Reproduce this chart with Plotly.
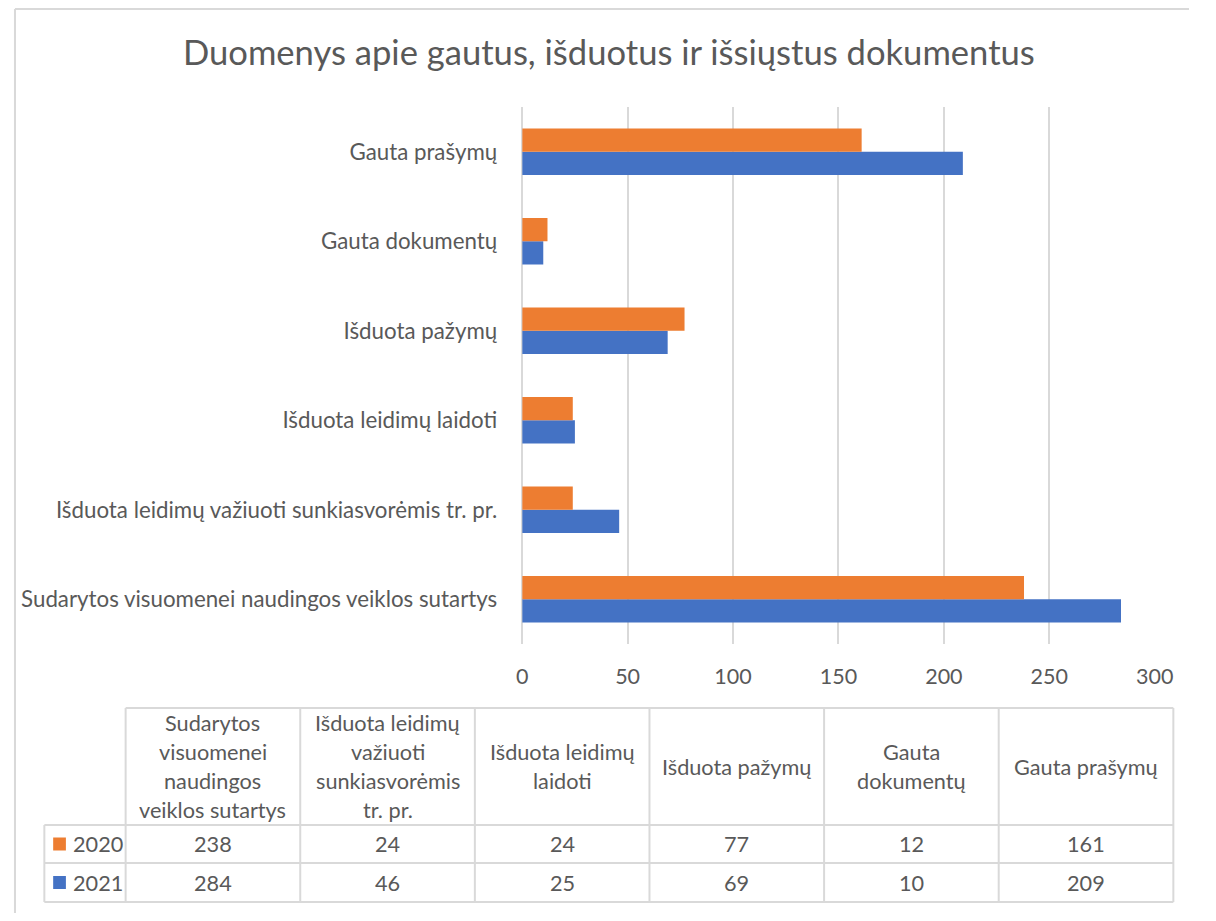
import plotly.graph_objects as go

# ---- data ----
categories = [
    "Sudarytos visuomenei naudingos veiklos sutartys",
    "Išduota leidimų važiuoti sunkiasvorėmis tr. pr.",
    "Išduota leidimų laidoti",
    "Išduota pažymų",
    "Gauta dokumentų",
    "Gauta prašymų",
]
table_headers = [
    ["Sudarytos", "visuomenei", "naudingos", "veiklos sutartys"],
    ["Išduota leidimų", "važiuoti", "sunkiasvorėmis", "tr. pr."],
    ["Išduota leidimų", "laidoti"],
    ["Išduota pažymų"],
    ["Gauta", "dokumentų"],
    ["Gauta prašymų"],
]
series_names = ["2020", "2021"]
values_2020 = [238, 24, 24, 77, 12, 161]
values_2021 = [284, 46, 25, 69, 10, 209]
x_ticks = [0, 50, 100, 150, 200, 250, 300]

title = "Duomenys apie gautus, išduotus ir išsiųstus dokumentus"

# ---- style ----
OFF = 8                          # default page margin of the html body
W, H = 1216 - 2 * OFF, 921 - 2 * OFF   # figure fills the page (autosize)
ORANGE = "#ED7D31"
BLUE = "#4472C4"
TEXT = "#595959"
GRID = "#D9D9D9"
FONT = "Lato"
FS_CAT = 22.3
FS_TICK = 21.5
FS_TAB = 21.7
FS_TITLE = 34.6

def clamp(v):
    return min(1.0, max(0.0, v))

def px(x):
    return clamp((x - OFF) / W)

def py(y):
    return clamp(1 - (y - OFF) / H)

fig = go.Figure()
# 2021 first so it sits at the bottom of each group
fig.add_trace(go.Bar(y=categories, x=values_2021, name=series_names[1], orientation="h",
                     marker=dict(color=BLUE, line=dict(width=0))))
fig.add_trace(go.Bar(y=categories, x=values_2020, name=series_names[0], orientation="h",
                     marker=dict(color=ORANGE, line=dict(width=0))))

plot_l, plot_r, plot_t, plot_b = 527, 1173, 107, 644

fig.update_layout(
    autosize=True,
    margin=dict(l=0, r=0, t=0, b=0),
    paper_bgcolor="white", plot_bgcolor="white",
    barmode="group", bargap=0.48, bargroupgap=0,
    showlegend=False,
    font=dict(family=FONT, color=TEXT, size=FS_TICK),
    xaxis=dict(domain=[px(plot_l), px(plot_r)], range=[0, 300], tickvals=x_ticks,
               showgrid=True, gridcolor=GRID, gridwidth=1.5, zeroline=True,
               zerolinecolor=GRID, zerolinewidth=1.5, showline=False, ticks="",
               ticklabelstandoff=17, tickfont=dict(size=FS_TICK, color=TEXT), fixedrange=True),
    yaxis=dict(domain=[py(plot_b), py(plot_t)], type="category",
               categoryorder="array", categoryarray=categories,
               showgrid=False, zeroline=False, showline=False, ticks="",
               ticklabelstandoff=24, tickfont=dict(size=FS_CAT, color=TEXT), fixedrange=True),
)

annotations = []
shapes = []

# title
annotations.append(dict(text=title, x=px(616), y=py(52), xref="paper", yref="paper",
                        xanchor="center", yanchor="middle", showarrow=False,
                        font=dict(size=FS_TITLE, color=TEXT, family=FONT)))

# chart border (top and left visible)
shapes.append(dict(type="line", xref="paper", yref="paper", x0=px(9), x1=1, y0=py(9), y1=py(9),
                   line=dict(color=GRID, width=2)))
shapes.append(dict(type="line", xref="paper", yref="paper", x0=px(9), x1=px(9), y0=py(9), y1=0,
                   line=dict(color=GRID, width=2)))

# ---- data table ----
t_left, t_lab_r, t_right = 39, 122, 1192
t_top, t_head_b, t_row1_b, t_bot = 708, 825, 863, 902
ncol = len(categories)
colw = (t_right - t_lab_r) / ncol
line_style = dict(color=GRID, width=2)

def hline(x0, x1, y):
    shapes.append(dict(type="line", xref="paper", yref="paper", x0=px(x0), x1=px(x1),
                       y0=py(y), y1=py(y), line=line_style))

def vline(x, y0, y1):
    shapes.append(dict(type="line", xref="paper", yref="paper", x0=px(x), x1=px(x),
                       y0=py(y0), y1=py(y1), line=line_style))

hline(t_lab_r, t_right, t_top)
hline(t_left, t_right, t_head_b)
hline(t_left, t_right, t_row1_b)
hline(t_left, t_right, t_bot)
vline(t_left, t_head_b, t_bot)
for i in range(ncol + 1):
    vline(t_lab_r + i * colw, t_top, t_bot)

head_center = (t_top + t_head_b) / 2
line_gap = 29
for i, lines in enumerate(table_headers):
    cx = t_lab_r + (i + 0.5) * colw
    n = len(lines)
    for j, ln in enumerate(lines):
        yy = head_center + (j - (n - 1) / 2) * line_gap
        annotations.append(dict(text=ln, x=px(cx), y=py(yy), xref="paper", yref="paper",
                                xanchor="center", yanchor="middle", showarrow=False,
                                font=dict(size=FS_TAB, color=TEXT, family=FONT)))

rows = [(series_names[0], values_2020, ORANGE, (t_head_b + t_row1_b) / 2),
        (series_names[1], values_2021, BLUE, (t_row1_b + t_bot) / 2)]
for name, vals, col, cy in rows:
    shapes.append(dict(type="rect", xref="paper", yref="paper",
                       x0=px(48), x1=px(61), y0=py(cy + 6.5), y1=py(cy - 6.5),
                       fillcolor=col, line=dict(width=0)))
    annotations.append(dict(text=name, x=px(66), y=py(cy), xref="paper", yref="paper",
                            xanchor="left", yanchor="middle", showarrow=False,
                            font=dict(size=FS_TAB, color=TEXT, family=FONT)))
    for i, v in enumerate(vals):
        cx = t_lab_r + (i + 0.5) * colw
        annotations.append(dict(text=str(v), x=px(cx), y=py(cy), xref="paper", yref="paper",
                                xanchor="center", yanchor="middle", showarrow=False,
                                font=dict(size=FS_TAB, color=TEXT, family=FONT)))

fig.update_layout(annotations=annotations, shapes=shapes)
fig.write_html("out.html")
